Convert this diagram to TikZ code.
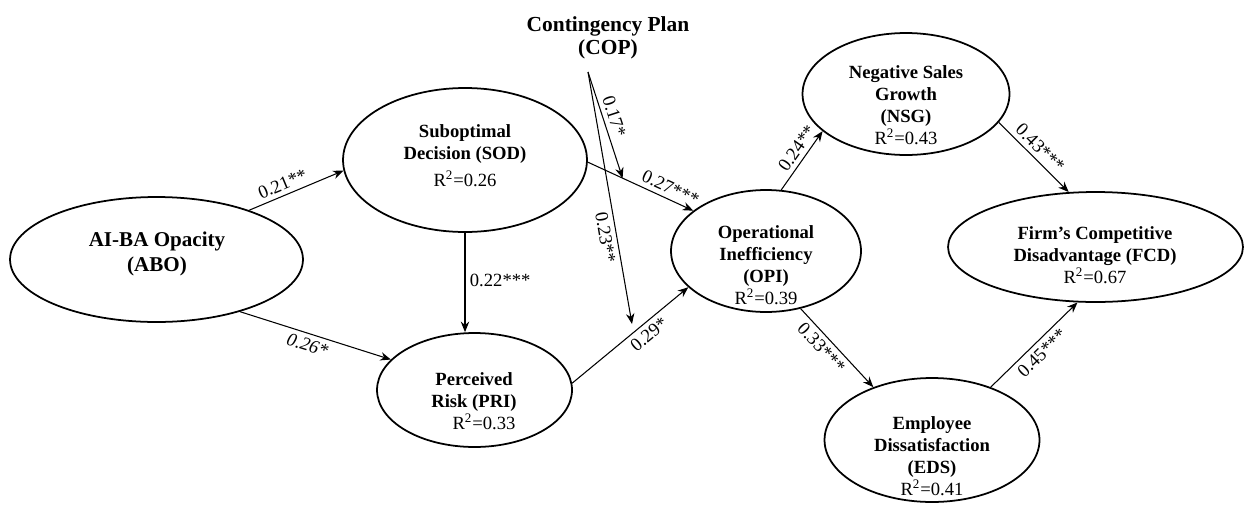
\documentclass[tikz,border=0pt]{standalone}
\usepackage{fontspec}
\setmainfont{Liberation Serif}
\usetikzlibrary{shapes.geometric,arrows.meta}
\tikzstyle{lv}=[ellipse,draw=black,line width=1pt,inner sep=0pt]
\tikzstyle{tx}=[align=center,font=\fontsize{10.6}{12.5}\selectfont\bfseries,inner sep=0pt]
\tikzstyle{ar}=[-{Stealth[length=6pt,width=4.8pt]},line width=.6pt]
\tikzstyle{lb}=[font=\fontsize{10.6}{12}\selectfont,inner sep=2.5pt]
\newcommand{\rsq}[1]{\textmd{R\textsuperscript{2}=#1}}

\begin{document}
\begin{tikzpicture}[x=0.02cm,y=-0.02cm]
\useasboundingbox (0,0) rectangle (1253,504);
% constructs
\node[lv,minimum width=5.86cm,minimum height=2.5cm] (abo) at (156.5,259.5) {};
\node[lv,minimum width=4.88cm,minimum height=2.88cm] (sod) at (465,160) {};
\node[lv,minimum width=3.9cm,minimum height=2.28cm] (pri) at (474.5,390) {};
\node[lv,minimum width=3.8cm,minimum height=2.44cm] (opi) at (766,251) {};
\node[lv,minimum width=4.14cm,minimum height=2.44cm] (nsg) at (906,94) {};
\node[lv,minimum width=5.9cm,minimum height=2.2cm] (fcd) at (1095.5,247) {};
\node[lv,minimum width=4.3cm,minimum height=2.48cm] (eds) at (932,440) {};
% texts
\node[tx,font=\fontsize{12}{14.2}\selectfont\bfseries] (abo-t) at (157,254) {AI-BA Opacity\\(ABO)};
\node[tx] (sod-t) at (465,156) {Suboptimal\\Decision (SOD)\\[3pt]\rsq{0.26}};
\node[tx] (pri-t) at (474,401) {Perceived\\Risk (PRI)\\\hspace*{.4cm}\rsq{0.33}};
\node[tx] (opi-t) at (766,265) {Operational\\Inefficiency\\(OPI)\\\rsq{0.39}};
\node[tx] (nsg-t) at (906,105) {Negative Sales\\Growth\\(NSG)\\\rsq{0.43}};
\node[tx] (fcd-t) at (1095,255) {Firm's Competitive\\Disadvantage (FCD)\\\rsq{0.67}};
\node[tx] (eds-t) at (932,456) {Employee\\Dissatisfaction\\(EDS)\\\rsq{0.41}};
\node[tx,font=\fontsize{12.2}{13}\selectfont\bfseries] (cop) at (608,38) {Contingency Plan\\(COP)};
\coordinate (cop-o) at (588,72);
\coordinate (m2) at (632,324);
% paths
\draw[ar] (abo.28.8) -- node[lb,sloped,above,pos=.4] {0.21**} (sod.185.6);
\draw[ar] (abo.-32.2) -- node[lb,sloped,below,pos=.47,font=\fontsize{10.6}{12}\selectfont\itshape] {0.26*} (pri.160.8);
\draw[ar] (sod.south) -- node[lb,right,pos=.48] {0.22***} (sod.south |- pri.north);
\draw[ar] (sod.-1.4) -- coordinate[pos=.33] (m1) node[lb,sloped,above,pos=.74] {0.27***} (opi.151.8);
\draw[ar] (pri.4.7) -- node[lb,sloped,below,pos=.6] {0.29*} (opi.205.4);
\draw[ar] (cop-o) -- node[lb,sloped,above,pos=.45] {0.17*} (m1);
\draw[ar] (cop-o) -- node[lb,sloped,below,pos=.65] {0.23**} (m2);
\draw[ar] (opi.76.6) -- node[lb,sloped,above,pos=.6] {0.24**} (nsg.204.6);
\draw[ar] (opi.-59.2) -- node[lb,sloped,below,pos=.4] {0.33***} (eds.138.7);
\draw[ar] (nsg.-17.6) -- node[lb,sloped,above,pos=.48] {0.43***} (fcd.116.6);
\draw[ar] (eds.42.4) -- node[lb,sloped,below,pos=.5] {0.45***} (fcd.-108.3);
\end{tikzpicture}
\end{document}
